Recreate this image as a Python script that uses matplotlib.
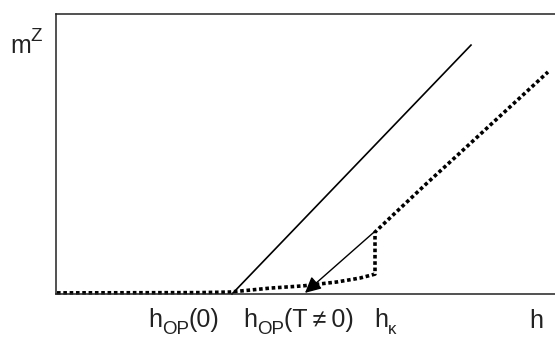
import numpy as np
import matplotlib
matplotlib.use("Agg")
import matplotlib.pyplot as plt

plt.rcParams['font.family'] = ['Liberation Sans', 'DejaVu Sans']

# magnetisation curves (arbitrary units)
solid_h = [35.2, 83.0]
solid_m = [0.0, 88.9]

dotted_h = [0.2, 28.8, 34.8, 42.8, 49.4, 56.2, 60.8, 63.8, 63.8, 67.4, 74.2, 80.8, 98.4]
dotted_m = [0.4, 0.5, 0.7, 2.1, 2.9, 4.3, 5.7, 7.1, 22.1, 28.2, 39.6, 50.4, 79.3]

arrow_from = (63.6, 22.1)
arrow_to = (49.8, 0.4)

# labels: pieces of (text, size, drop in px), left edge px, baseline px
xlabels = [
    ([("h", 18, 0), ("OP", 13.5, 7), ("(0)", 18, 0)], 148, 327),
    ([("h", 18, 0), ("OP", 13.5, 7), ("(T\u2009\u2260\u20090)", 18, 0)], 243, 327),
    ([("h", 18, 0), ("\u03ba", 12, 7)], 374, 327),
    ([("h", 18, 0)], 529, 328),
    ([("m", 18, 0), ("Z", 13.5, -12)], 10, 53),
]

W, H = 555, 338
fig = plt.figure(figsize=(W / 100, H / 100), dpi=100)
ax = fig.add_axes([56 / W, (H - 294) / H, 500 / W, 280 / H])
ax.set_xlim(0, 100)
ax.set_ylim(0, 100)
ax.set_xticks([])
ax.set_yticks([])
for s in ['left', 'top', 'bottom']:
    ax.spines[s].set_color('#222222')
    ax.spines[s].set_linewidth(1.1)
ax.spines['right'].set_visible(False)

ax.plot(solid_h, solid_m, color='black', lw=1.2, clip_on=False)
ax.plot(dotted_h, dotted_m, color='black', lw=2.6, linestyle=(0, (1, 0.75)),
        clip_on=False)
ax.annotate('', xy=arrow_to, xytext=arrow_from,
            arrowprops=dict(arrowstyle='-|>', color='black', lw=1.0,
                            mutation_scale=24, shrinkA=0, shrinkB=0))

renderer = fig.canvas.get_renderer()
for parts, x, base in xlabels:
    for txt, size, dy in parts:
        t = fig.text(x / W, (H - base - dy) / H, txt, fontsize=size,
                     ha='left', va='baseline', color='#222222')
        x = t.get_window_extent(renderer).x1

fig.savefig('out.png', dpi=100)
